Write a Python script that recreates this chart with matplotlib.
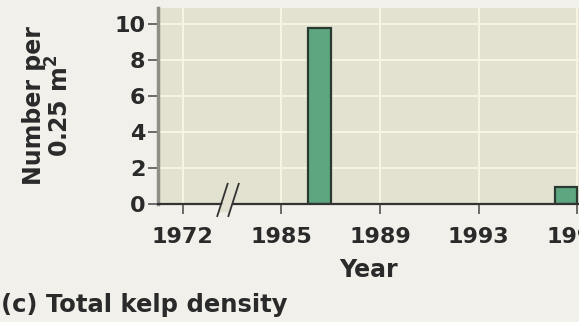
import matplotlib.pyplot as plt
from matplotlib.patches import Polygon

# Total kelp density per survey year
years = [1987, 1997]
density = [9.8, 0.9]

# Tick labels; 1972 is drawn before the axis break
tick_years = [1972, 1985, 1989, 1993, 1997]
tick_pos = [1981, 1985, 1989, 1993, 1997]
y_ticks = [0, 2, 4, 6, 8, 10]

fig_bg = "#f2f0ea"
plot_bg = "#e3e2d0"
grid_col = "#f7f5e4"
text_col = "#2a2a2a"

plt.rcParams["font.family"] = ["DejaVu Sans"]
plt.rcParams["font.weight"] = "bold"
plt.rcParams["mathtext.default"] = "bf"

fig = plt.figure(figsize=(5.79, 3.22), dpi=100, facecolor=fig_bg)
ax = fig.add_axes([0.273, 0.368, 0.767, 0.607])
ax.set_facecolor(plot_bg)

# bars sit just left of their year tick
ax.bar([y - 0.47 for y in years], density, width=0.92,
       color="#5da67f", edgecolor="#2b3a31", linewidth=1.6, zorder=3)

ax.set_xlim(1980, 1998)
ax.set_ylim(0, 10.9)
ax.set_xticks(tick_pos)
ax.set_xticklabels([str(y) for y in tick_years])
ax.set_yticks(y_ticks)

ax.grid(True, color=grid_col, linewidth=1.4, zorder=0)
ax.set_axisbelow(True)

for side in ["top", "right"]:
    ax.spines[side].set_visible(False)
ax.spines["left"].set_color("#8f8f86")
ax.spines["left"].set_linewidth(2.5)
ax.spines["bottom"].set_color("#333333")
ax.spines["bottom"].set_linewidth(1.6)
ax.spines["bottom"].set_zorder(4)

ax.tick_params(axis="y", length=7, width=1.2, color="#555555",
               labelsize=16, labelcolor=text_col, pad=2)
ax.tick_params(axis="x", length=7, width=1.2, color="#555555",
               labelsize=16, labelcolor=text_col, pad=10)

ax.set_xlabel("Year", fontsize=17, fontweight="bold", color=text_col)
ax.xaxis.set_label_coords(0.473, -0.28)
ax.set_ylabel("Number per\n0.25 m$^2$", fontsize=17, fontweight="bold",
              color=text_col, linespacing=1.0)
ax.yaxis.set_label_coords(-0.19, 0.5)

# axis break marks between 1972 and 1985
b0, b1 = 1982.4, 1982.85
gap = Polygon([(b0 + 0.05, -0.5), (b1, -0.5), (b1 + 0.38, 0.7), (b0 + 0.43, 0.7)],
              closed=True, facecolor=plot_bg, edgecolor="none",
              transform=ax.transData, clip_on=False, zorder=5)
ax.add_patch(gap)
for b in (b0, b1):
    ax.plot([b, b + 0.42], [-0.7, 1.1], color="#333333", linewidth=1.3,
            clip_on=False, zorder=6)

fig.text(0.002, 0.052, "(c) Total kelp density", fontsize=17.5,
         color=text_col, ha="left", va="center")

fig.savefig("out.png", dpi=100, facecolor=fig_bg)
